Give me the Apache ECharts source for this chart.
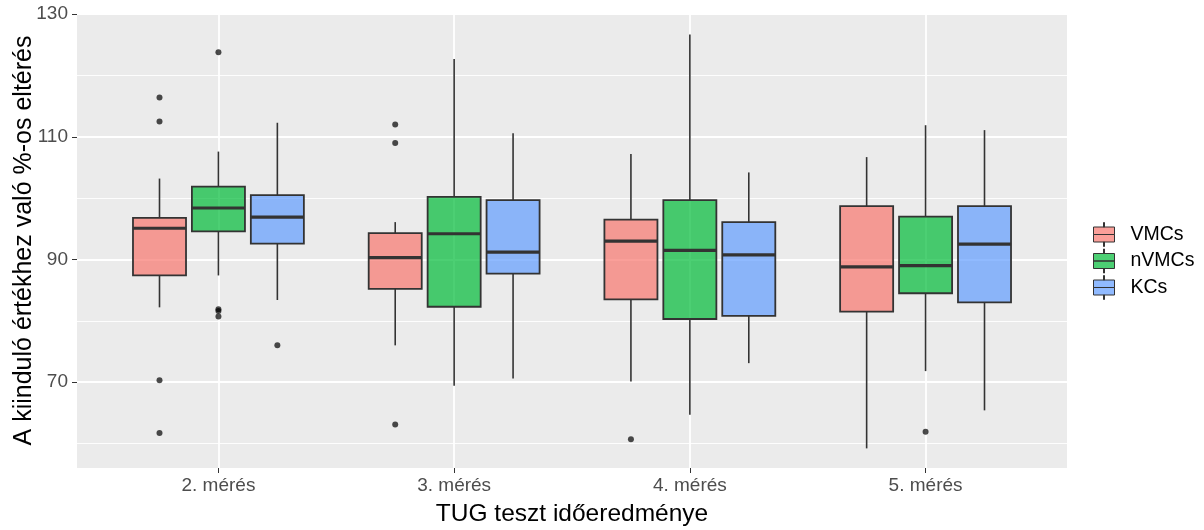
<!DOCTYPE html>
<html>
<head>
<meta charset="utf-8">
<script src="https://cdn.jsdelivr.net/npm/echarts@6/dist/echarts.min.js"></script>
<style>
  html, body { margin: 0; padding: 0; background: #ffffff; }
  #chart { width: 1204px; height: 530px; }
</style>
</head>
<body>
<div id="chart"></div>
<script>
const categories = ['2. mérés', '3. mérés', '4. mérés', '5. mérés'];
const groupNames = ['VMCs', 'nVMCs', 'KCs'];

// [lower whisker, Q1, median, Q3, upper whisker] per measurement
const vmcsBox = [
  [82.2, 87.4, 95.1, 96.8, 103.2],
  [76.0, 85.2, 90.3, 94.3, 96.1],
  [70.1, 83.5, 93.0, 96.5, 107.2],
  [59.2, 81.5, 88.8, 98.7, 106.7]
];
const nvmcsBox = [
  [87.4, 94.6, 98.4, 101.9, 107.6],
  [69.4, 82.3, 94.2, 100.2, 122.7],
  [64.7, 80.3, 91.5, 99.7, 126.7],
  [71.8, 84.5, 89.0, 97.0, 111.9]
];
const kcsBox = [
  [83.4, 92.6, 96.9, 100.5, 112.3],
  [70.6, 87.7, 91.2, 99.7, 110.6],
  [73.1, 80.8, 90.75, 96.1, 104.2],
  [65.4, 83.0, 92.5, 98.7, 111.1]
];

// [measurement index, value]
const vmcsOutliers = [[0, 116.4], [0, 112.5], [0, 70.3], [0, 61.7], [1, 112.0], [1, 109.0], [1, 63.1], [2, 60.7]];
const nvmcsOutliers = [[0, 123.8], [0, 81.9], [0, 81.6], [0, 80.7], [3, 61.9]];
const kcsOutliers = [[0, 76.0]];

const majorY = [70, 90, 110, 130];
const minorY = [60, 80, 100, 120];

const fills = ['rgba(248,118,109,0.7)', 'rgba(0,186,56,0.7)', 'rgba(97,156,255,0.7)'];
const boxes = [vmcsBox, nvmcsBox, kcsBox];
const outliers = [vmcsOutliers, nvmcsOutliers, kcsOutliers];

const FONT = "'Liberation Sans', Arial, sans-serif";
const dodge = 0.25;
const boxW = 0.225;

function boxRenderer(slot, fill) {
  return function (params, api) {
    const x = api.value(0) + slot * dodge;
    const half = api.size([boxW, 0])[0] / 2;
    const lo = api.coord([x, api.value(1)]);
    const q1 = api.coord([x, api.value(2)]);
    const md = api.coord([x, api.value(3)]);
    const q3 = api.coord([x, api.value(4)]);
    const hi = api.coord([x, api.value(5)]);
    const line = { stroke: '#333333', lineWidth: 1.6 };
    return {
      type: 'group',
      children: [
        { type: 'line', shape: { x1: hi[0], y1: hi[1], x2: q3[0], y2: q3[1] }, style: line },
        { type: 'line', shape: { x1: q1[0], y1: q1[1], x2: lo[0], y2: lo[1] }, style: line },
        { type: 'rect', shape: { x: q3[0] - half, y: q3[1], width: half * 2, height: q1[1] - q3[1] },
          style: { fill: fill, stroke: '#333333', lineWidth: 1.8 } },
        { type: 'line', shape: { x1: md[0] - half, y1: md[1], x2: md[0] + half, y2: md[1] },
          style: { stroke: '#333333', lineWidth: 3.2 } }
      ]
    };
  };
}

function outlierRenderer(slot) {
  return function (params, api) {
    const p = api.coord([api.value(0) + slot * dodge, api.value(1)]);
    return { type: 'circle', shape: { cx: p[0], cy: p[1], r: 3 }, style: { fill: 'rgba(0,0,0,0.7)' } };
  };
}

const series = [];
groupNames.forEach((name, i) => {
  series.push({
    name,
    type: 'custom',
    renderItem: boxRenderer(i - 1, fills[i]),
    itemStyle: { color: fills[i], borderColor: '#333333' },
    encode: { x: 0, y: [1, 2, 3, 4, 5] },
    data: boxes[i].map((d, k) => [k].concat(d)),
    z: 3
  });
});
groupNames.forEach((name, i) => {
  series.push({
    name,
    type: 'custom',
    renderItem: outlierRenderer(i - 1),
    encode: { x: 0, y: 1 },
    data: outliers[i],
    z: 4
  });
});

const legendIcon = 'path://M10,0h1v4.5h-1z M0,4.5h21v7.5h-21z M0,12h21v7.5h-21z M10,19.5h1v4.5h-1z';

const chart = echarts.init(document.getElementById('chart'));
chart.setOption({
  animation: false,
  textStyle: { fontFamily: FONT },
  grid: {
    left: 77, right: 137, top: 13, bottom: 62,
    outerBoundsMode: 'none',
    containLabel: false,
    show: true, backgroundColor: '#EBEBEB', borderWidth: 0
  },
  legend: {
    orient: 'vertical',
    left: 1093,
    top: 222,
    itemWidth: 21,
    itemHeight: 24,
    itemGap: 1.5,
    padding: 0,
    selectedMode: false,
    textStyle: { fontSize: 19.5, color: '#000000', fontFamily: FONT, padding: [0, 0, 0, 11] },
    data: groupNames.map((name, i) => ({
      name,
      icon: legendIcon,
      itemStyle: { color: fills[i], borderColor: '#333333', borderWidth: 1 }
    }))
  },
  xAxis: {
    type: 'value',
    min: -0.6,
    max: 3.6,
    name: 'TUG teszt időeredménye',
    nameLocation: 'middle',
    nameGap: 34,
    nameMoveOverlap: false,
    nameTextStyle: { fontSize: 24.5, color: '#000000', fontFamily: FONT },
    axisLine: { show: false, onZero: false },
    axisTick: { show: true, length: 5, lineStyle: { color: '#333333', width: 1 }, customValues: [0, 1, 2, 3] },
    axisLabel: {
      customValues: [0, 1, 2, 3],
      formatter: (v) => categories[Math.round(v)],
      fontSize: 19, color: '#4D4D4D', margin: 8, fontFamily: FONT
    },
    splitLine: { show: true, lineStyle: { color: '#FFFFFF', width: 1.8 } }
  },
  yAxis: [
    {
      type: 'value',
      min: 56,
      max: 130.2,
      name: 'A kiinduló értékhez való %-os eltérés',
      nameLocation: 'middle',
      nameGap: 40,
      nameMoveOverlap: false,
      nameTextStyle: { fontSize: 25, color: '#000000', fontFamily: FONT },
      axisLine: { show: false, onZero: false },
      axisTick: { show: true, length: 5, lineStyle: { color: '#333333', width: 1 }, customValues: majorY },
      axisLabel: { customValues: majorY, fontSize: 19, color: '#4D4D4D', margin: 9, fontFamily: FONT },
      splitLine: { show: true, lineStyle: { color: '#FFFFFF', width: 1.8 } }
    },
    {
      type: 'value',
      min: 56,
      max: 130.2,
      position: 'left',
      axisLine: { show: false, onZero: false },
      axisTick: { show: false, customValues: minorY },
      axisLabel: { show: false, customValues: minorY },
      splitLine: { show: true, lineStyle: { color: '#FFFFFF', width: 0.9 } }
    }
  ],
  series
});
</script>
</body>
</html>
